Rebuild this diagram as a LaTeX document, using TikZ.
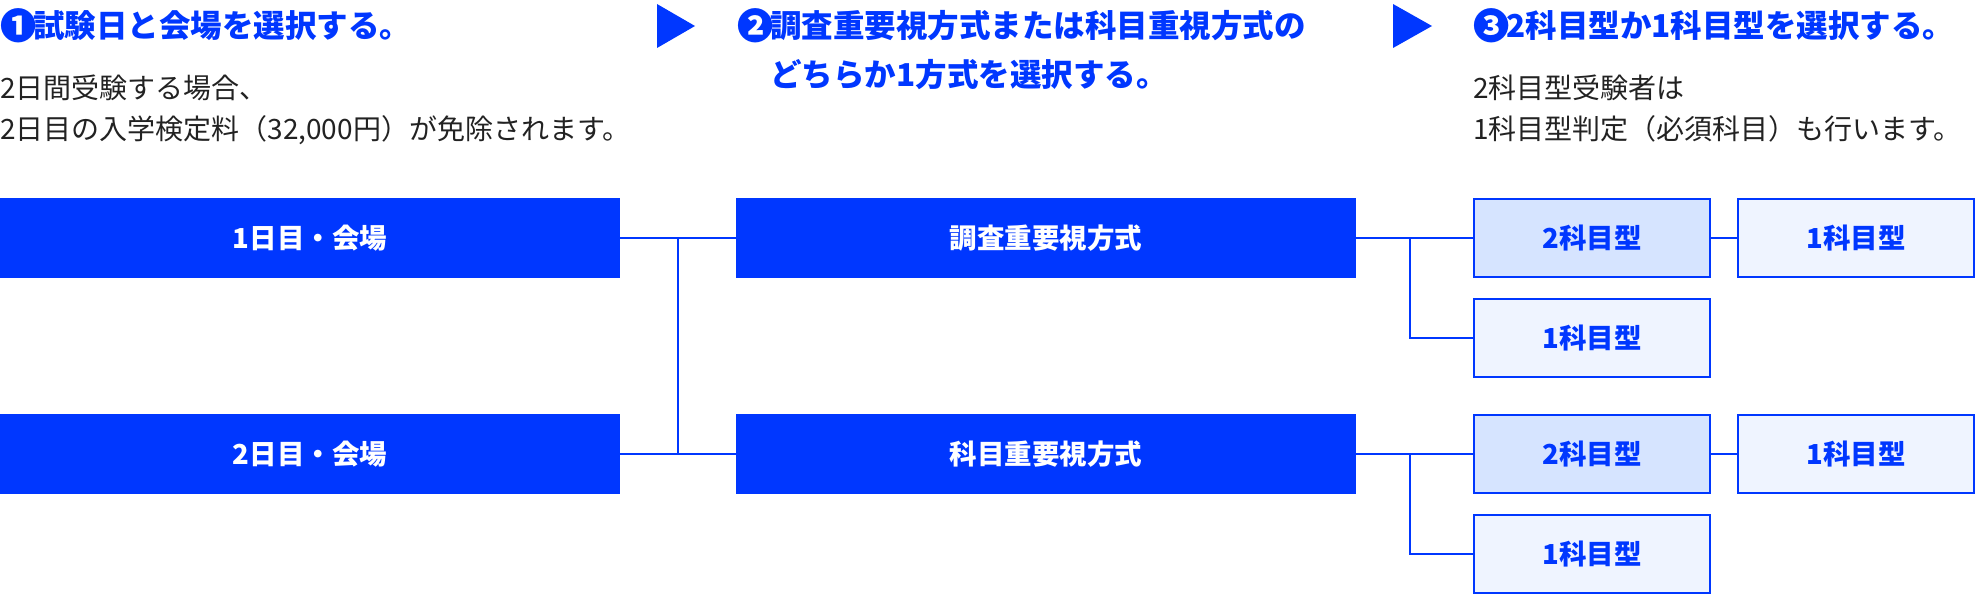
\documentclass[tikz,border=0pt]{standalone}
\usepackage{fontspec}
\setmainfont{Noto Sans CJK JP}
\usepackage{tikz}
\usetikzlibrary{positioning}
\definecolor{mainblue}{RGB}{0,55,255}
\definecolor{paleblue}{RGB}{214,228,255}
\definecolor{lightblue}{RGB}{239,244,255}
\definecolor{bodygray}{RGB}{34,34,34}
\newcommand\stepmark[1]{\makebox[1.06em][l]{\raisebox{-1pt}{\scalebox{1.15}{\makebox[0.85em][l]{#1}}}}}
\tikzset{
  every node/.style={outer sep=0pt,inner sep=0pt}
}
\tikzset{mainbox/.style={
    fill=mainblue,
    text=white,
    font=\bfseries\fontsize{27.5pt}{32pt}\selectfont,
    minimum width=620pt,
    minimum height=80pt
  }}
\tikzset{typebox/.style={
    draw=mainblue,
    line width=2pt,
    fill=#1,
    text=mainblue,
    font=\bfseries\fontsize{27.5pt}{32pt}\selectfont,
    minimum width=236pt,
    minimum height=78pt
  },
  typebox/.default=lightblue}
\tikzset{heading/.style={text=mainblue,anchor=base west,font=\bfseries\fontsize{31.5pt}{48pt}\selectfont}}
\tikzset{note/.style={text=bodygray,anchor=base west,font=\fontsize{28pt}{42pt}\selectfont}}
\tikzset{link/.style={draw=mainblue,line width=2pt}}

\begin{document}
\begin{tikzpicture}
  [x=1pt,y=-1pt]
  \useasboundingbox (0,0) rectangle (1976,594);

  \node (Step1) [heading] at (0,38)    {\stepmark{❶}試験日と会場を選択する。};
  \node (Step2) [heading] at (737,38)  {\stepmark{❷}\parbox[t]{600pt}{調査重要視方式または科目重視方式の\\どちらか1方式を選択する。}};
  \node (Step3) [heading] at (1473,38) {\stepmark{❸}2科目型か1科目型を選択する。};

  \node (Note1) [note] at (0,98)    {\parbox[t]{700pt}{2日間受験する場合、\\2日目の入学検定料（32,000円）が免除されます。}};
  \node (Note3) [note] at (1473,98) {\parbox[t]{500pt}{2科目型受験者は\\1科目型判定（必須科目）も行います。}};

  \fill [mainblue] (657,4) -- (695,26) -- (657,48) -- cycle;
  \fill [mainblue] (1393,4) -- (1432,26) -- (1393,48) -- cycle;

  \node (Day1)   [mainbox,anchor=north west] at (0,198) {1日目・会場};
  \node (Day2)   [mainbox,below=136pt of Day1]           {2日目・会場};
  \node (Chosa)  [mainbox,right=116pt of Day1]           {調査重要視方式};
  \node (Kamoku) [mainbox,right=116pt of Day2]           {科目重要視方式};

  \node (ChosaTwo)    [typebox=paleblue,right=118pt of Chosa]  {2科目型};
  \node (ChosaOne)    [typebox,below=22pt of ChosaTwo]         {1科目型};
  \node (ChosaJudge)  [typebox,right=28pt of ChosaTwo]         {1科目型};
  \node (KamokuTwo)   [typebox=paleblue,right=118pt of Kamoku] {2科目型};
  \node (KamokuOne)   [typebox,below=22pt of KamokuTwo]        {1科目型};
  \node (KamokuJudge) [typebox,right=28pt of KamokuTwo]        {1科目型};

  \draw [link] (Day1.east) -- (Chosa.west);
  \draw [link] (Day2.east) -- (Kamoku.west);
  \draw [link] ([xshift=58pt] Day1.east) -- ([xshift=58pt] Day2.east);

  \draw [link] (Chosa.east) -- (ChosaTwo.west);
  \draw [link] ([xshift=54pt] Chosa.east) |- (ChosaOne.west);
  \draw [link] (ChosaTwo.east) -- (ChosaJudge.west);

  \draw [link] (Kamoku.east) -- (KamokuTwo.west);
  \draw [link] ([xshift=54pt] Kamoku.east) |- (KamokuOne.west);
  \draw [link] (KamokuTwo.east) -- (KamokuJudge.west);
\end{tikzpicture}
\end{document}
